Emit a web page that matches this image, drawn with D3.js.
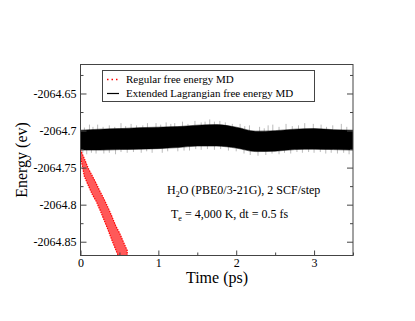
<!DOCTYPE html>
<html>
<head>
<meta charset="utf-8">
<script src="https://cdn.jsdelivr.net/npm/d3@7"></script>
<style>
  html, body { margin: 0; padding: 0; background: #fff; }
  svg, svg text { font-family: 'Liberation Serif', 'Times New Roman', serif; }
</style>
</head>
<body>
<div data-js-graph></div>
<script>
// red curve: regular free energy MD (upper / lower edge of the noisy band)
const redTime = [0, 0.05, 0.1, 0.15, 0.2, 0.25, 0.3, 0.35, 0.4, 0.45, 0.5, 0.55, 0.6];
const redUpper = [-2064.726, -2064.738, -2064.751, -2064.761, -2064.771, -2064.782, -2064.792,
  -2064.803, -2064.815, -2064.828, -2064.838, -2064.850, -2064.862];
const redLower = [-2064.735, -2064.762, -2064.774, -2064.786, -2064.795, -2064.807, -2064.820,
  -2064.833, -2064.847, -2064.860, -2064.873, -2064.885, -2064.900];

// black curve: extended Lagrangian free energy MD (envelope of the fast oscillation)
const blackTime = [0, 0.25, 0.5, 0.75, 1.0, 1.25, 1.5, 1.75, 2.0, 2.25, 2.5, 2.75, 3.0, 3.25, 3.5];
const blackUpper = [-2064.6995, -2064.6981, -2064.6974, -2064.6961, -2064.6954, -2064.6947, -2064.6927,
  -2064.6920, -2064.6954, -2064.7008, -2064.7001, -2064.6981, -2064.6974, -2064.6988, -2064.6995];
const blackLower = [-2064.7264, -2064.7264, -2064.7257, -2064.7251, -2064.7244, -2064.7230, -2064.7210,
  -2064.7210, -2064.7237, -2064.7284, -2064.7278, -2064.7257, -2064.7251, -2064.7257, -2064.7264];

// spikes sticking out of the black band
const spikeUpTime = [0.05, 0.115, 0.16, 0.22, 0.29, 0.37, 0.44, 0.52, 0.58, 0.65, 0.72, 0.8, 0.86,
  0.97, 1.03, 1.10, 1.16, 1.21, 1.31, 1.38, 1.47, 1.55, 1.6, 1.66, 1.72, 1.79, 1.86, 1.95, 2.05,
  2.11, 2.17, 2.30, 2.36, 2.41, 2.47, 2.55, 2.64, 2.72, 2.8, 2.88, 2.99, 3.09, 3.16, 3.24, 3.35, 3.42];
const spikeUpValue = [-2064.696, -2064.692, -2064.695, -2064.692, -2064.695, -2064.693, -2064.695,
  -2064.690, -2064.694, -2064.691, -2064.693, -2064.693, -2064.690, -2064.690, -2064.692, -2064.689,
  -2064.691, -2064.690, -2064.688, -2064.691, -2064.687, -2064.689, -2064.688, -2064.685, -2064.688,
  -2064.687, -2064.689, -2064.691, -2064.691, -2064.694, -2064.693, -2064.695, -2064.697, -2064.693,
  -2064.692, -2064.695, -2064.691, -2064.694, -2064.693, -2064.690, -2064.691, -2064.692, -2064.695,
  -2064.693, -2064.691, -2064.695];
const spikeDownTime = [0.03, 0.08, 0.14, 0.2, 0.3, 0.37, 0.45, 0.52, 0.6, 0.68, 0.78, 0.85, 0.92,
  1.05, 1.12, 1.25, 1.33, 1.4, 1.48, 1.55, 1.63, 1.72, 1.8, 1.9, 2.0, 2.1, 2.18, 2.28, 2.38, 2.46,
  2.55, 2.62, 2.7, 2.78, 2.85, 2.93, 3.0, 3.08, 3.15, 3.22, 3.3, 3.38, 3.45];
const spikeDownValue = [-2064.730, -2064.732, -2064.730, -2064.731, -2064.731, -2064.730, -2064.732,
  -2064.729, -2064.730, -2064.729, -2064.730, -2064.728, -2064.730, -2064.730, -2064.728, -2064.728,
  -2064.727, -2064.727, -2064.725, -2064.726, -2064.725, -2064.726, -2064.725, -2064.727, -2064.728,
  -2064.731, -2064.733, -2064.734, -2064.733, -2064.731, -2064.732, -2064.730, -2064.731, -2064.729,
  -2064.730, -2064.729, -2064.730, -2064.729, -2064.731, -2064.730, -2064.731, -2064.730, -2064.732];

const xTicks = [0, 1, 2, 3];
const xMinorTicks = [0.5, 1.5, 2.5, 3.5];
const yTicks = [-2064.85, -2064.8, -2064.75, -2064.7, -2064.65];
const yMinorTicks = [-2064.825, -2064.775, -2064.725, -2064.675, -2064.625];
const legendLabels = ['Regular free energy MD', 'Extended Lagrangian free energy MD'];

const SETTING = {
  width: 415,
  height: 321,
  left: 80.5,
  right: 353,
  top: 64,
  bottom: 255.5,
  font: "'Liberation Serif', 'Times New Roman', serif",
};

const svg = d3.select('[data-js-graph]').append('svg')
  .attr('width', SETTING.width)
  .attr('height', SETTING.height);

const x = d3.scaleLinear().domain([0, 3.5]).range([SETTING.left, SETTING.right]);
const y = d3.scaleLinear().domain([-2064.8686, -2064.6102]).range([SETTING.bottom, SETTING.top]);

svg.append('clipPath').attr('id', 'plot-clip')
  .append('rect')
  .attr('x', SETTING.left)
  .attr('y', SETTING.top)
  .attr('width', SETTING.right - SETTING.left)
  .attr('height', SETTING.bottom - SETTING.top);

const plot = svg.append('g').attr('clip-path', 'url(#plot-clip)');

// black band + its spikes
const blackData = blackTime.map((t, i) => ({ t, hi: blackUpper[i], lo: blackLower[i] }));
plot.append('g')
  .selectAll('line')
  .data(spikeUpTime.map((t, i) => ({ t, v: spikeUpValue[i] }))
    .concat(spikeDownTime.map((t, i) => ({ t, v: spikeDownValue[i] }))))
  .enter()
  .append('line')
  .attr('x1', (d) => x(d.t))
  .attr('x2', (d) => x(d.t))
  .attr('y1', (d) => y(d.v))
  .attr('y2', y(-2064.712))
  .style('stroke', '#777')
  .style('stroke-width', 0.5);

plot.append('path')
  .datum(blackData)
  .attr('d', d3.area()
    .x((d) => x(d.t))
    .y0((d) => y(d.lo))
    .y1((d) => y(d.hi))
    .curve(d3.curveMonotoneX))
  .style('fill', '#000')
  .style('stroke', '#000')
  .style('stroke-width', 0.5);

// red band
const redData = redTime.map((t, i) => ({ t, hi: redUpper[i], lo: redLower[i] }));
plot.append('path')
  .datum(redData)
  .attr('d', d3.area()
    .x((d) => x(d.t))
    .y0((d) => y(d.lo))
    .y1((d) => y(d.hi)))
  .style('fill', '#f00')
  .style('fill-opacity', 0.65)
  .style('stroke', '#f00')
  .style('stroke-width', 1.2)
  .style('stroke-dasharray', '1.5,1');

// axes
const tickFmt = (d) => String(+d.toFixed(2));

function styleAxis(g) {
  g.attr('font-family', SETTING.font).attr('font-size', 12);
  g.select('.domain').remove();
  g.selectAll('line').style('stroke', '#444');
  g.selectAll('text').style('fill', '#000');
}

svg.append('g')
  .attr('transform', `translate(0,${SETTING.bottom})`)
  .call(d3.axisBottom(x).tickValues(xTicks).tickFormat(tickFmt).tickSize(-5).tickPadding(3))
  .call(styleAxis);
svg.append('g')
  .attr('transform', `translate(0,${SETTING.bottom})`)
  .call(d3.axisBottom(x).tickValues(xMinorTicks).tickFormat('').tickSize(-3))
  .call(styleAxis);

svg.append('g')
  .attr('transform', `translate(${SETTING.left},0)`)
  .call(d3.axisLeft(y).tickValues(yTicks).tickFormat(tickFmt).tickSize(-6).tickPadding(4))
  .call(styleAxis);
svg.append('g')
  .attr('transform', `translate(${SETTING.left},0)`)
  .call(d3.axisLeft(y).tickValues(yMinorTicks).tickFormat('').tickSize(-3))
  .call(styleAxis);

svg.append('g')
  .attr('transform', `translate(${SETTING.right},0)`)
  .call(d3.axisRight(y).tickValues(yTicks).tickFormat('').tickSize(-6))
  .call(styleAxis);
svg.append('g')
  .attr('transform', `translate(${SETTING.right},0)`)
  .call(d3.axisRight(y).tickValues(yMinorTicks).tickFormat('').tickSize(-3))
  .call(styleAxis);

// frame
svg.append('rect')
  .attr('x', SETTING.left)
  .attr('y', SETTING.top + 0.5)
  .attr('width', SETTING.right - SETTING.left)
  .attr('height', SETTING.bottom - SETTING.top - 0.5)
  .style('fill', 'none')
  .style('stroke', '#444')
  .style('stroke-width', 1);

// axis titles
svg.append('text')
  .attr('x', 217)
  .attr('y', 283)
  .attr('text-anchor', 'middle')
  .style('font-size', '16px')
  .text('Time (ps)');

svg.append('text')
  .attr('transform', 'translate(27,160) rotate(-90)')
  .attr('text-anchor', 'middle')
  .style('font-size', '16px')
  .text('Energy (ev)');

// legend
const legend = svg.append('g');
legend.append('rect')
  .attr('x', 102.5)
  .attr('y', 70.5)
  .attr('width', 212)
  .attr('height', 31)
  .style('fill', '#fff')
  .style('stroke', '#444');

legend.selectAll('line')
  .data(legendLabels)
  .enter()
  .append('line')
  .attr('x1', 107)
  .attr('x2', 119)
  .attr('y1', (d, i) => 79.5 + i * 14)
  .attr('y2', (d, i) => 79.5 + i * 14)
  .style('stroke', (d, i) => (i === 0 ? '#f00' : '#000'))
  .style('stroke-width', (d, i) => (i === 0 ? 1.5 : 1.2))
  .style('stroke-dasharray', (d, i) => (i === 0 ? '1.5,3' : null));

legend.selectAll('text')
  .data(legendLabels)
  .enter()
  .append('text')
  .attr('x', 126)
  .attr('y', (d, i) => 83 + i * 14)
  .style('font-size', '11px')
  .text((d) => d);

// annotation
const note1 = svg.append('text').attr('x', 167).attr('y', 194).style('font-size', '12px');
note1.append('tspan').text('H');
note1.append('tspan').attr('dy', 3).style('font-size', '8px').text('2');
note1.append('tspan').attr('dy', -3).text('O (PBE0/3-21G), 2 SCF/step');

const note2 = svg.append('text').attr('x', 171).attr('y', 218).style('font-size', '12px');
note2.append('tspan').text('T');
note2.append('tspan').attr('dy', 3).style('font-size', '8px').text('e');
note2.append('tspan').attr('dy', -3).text(' = 4,000 K, dt = 0.5 fs');
</script>
</body>
</html>
